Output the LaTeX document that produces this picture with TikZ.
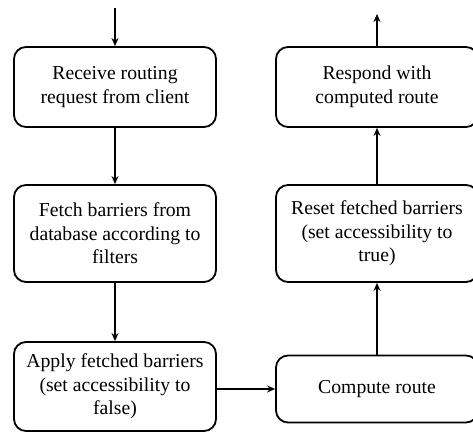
\documentclass[tikz,border=0pt]{standalone}
\usepackage{fontspec}
\setmainfont{Liberation Serif}
\usetikzlibrary{arrows.meta}
\begin{document}
\begin{tikzpicture}[x=1bp,y=1bp,
  box/.style={draw, line width=1.8bp, rounded corners=12bp, align=center,
    font=\fontsize{19.7bp}{23.5bp}\selectfont, inner sep=0pt},
  conn/.style={line width=2bp, -{Stealth[length=8bp,width=7bp]}}]
\useasboundingbox (0,0) rectangle (473,437);
\node[box, minimum width=202bp, minimum height=80bp] (recv) at (115,350) {Receive routing\\request from client};
\node[box, minimum width=202bp, minimum height=97bp] (fetch) at (115,203.5) {Fetch barriers from\\database according to\\filters};
\node[box, minimum width=202bp, minimum height=89bp] (apply) at (115,50.5) {Apply fetched barriers\\(set accessibility to\\false)};
\node[box, minimum width=202bp, minimum height=67bp] (comp) at (377,48) {Compute route};
\node[box, minimum width=202bp, minimum height=97bp] (reset) at (377,203.5) {Reset fetched barriers\\(set accessibility to\\true)};
\node[box, minimum width=202bp, minimum height=80bp] (resp) at (377,350) {Respond with\\computed route};
\coordinate (in) at (115,429);
\coordinate (out) at (377,423);
\draw[conn] (in) -- (recv.north);
\draw[conn] (recv) -- (fetch);
\draw[conn] (fetch) -- (apply);
\draw[conn] (apply.east |- comp.west) -- (comp.west);
\draw[conn] (comp) -- (reset);
\draw[conn] (reset) -- (resp);
\draw[conn] (resp) -- (out);
\end{tikzpicture}
\end{document}
